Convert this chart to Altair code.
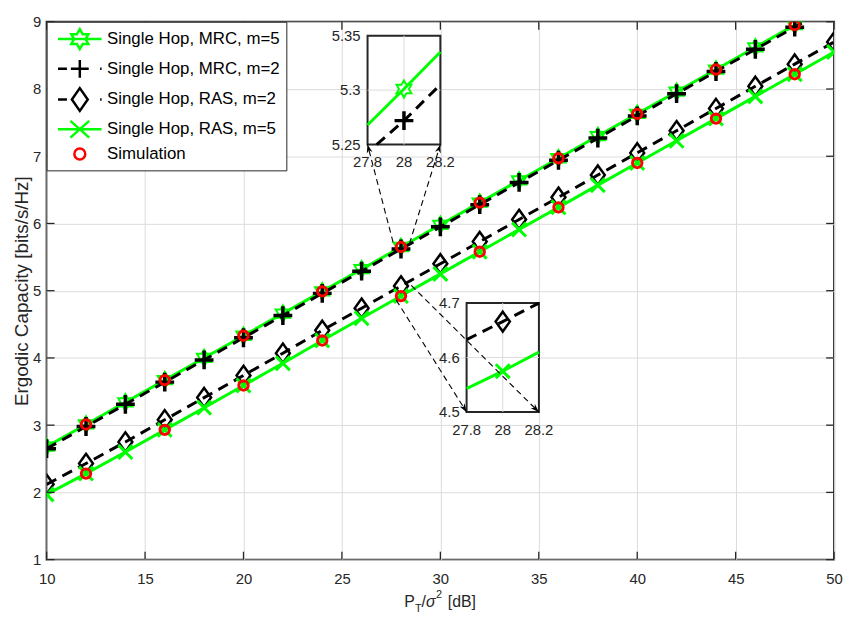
import math
import altair as alt
import pandas as pd

# ---------------- data ----------------
X = [10, 12, 14, 16, 18, 20, 22, 24, 26, 28, 30, 32, 34, 36, 38, 40, 42, 44, 46, 48, 50]
MRC5 = [2.68, 3.01, 3.34, 3.67, 4.00, 4.33, 4.66, 4.99, 5.32, 5.65, 5.98,
        6.31, 6.64, 6.97, 7.30, 7.63, 7.96, 8.29, 8.62, 8.95, 9.28]
MRC2 = [2.65, 2.98, 3.31, 3.64, 3.97, 4.30, 4.63, 4.96, 5.29, 5.62, 5.95,
        6.28, 6.61, 6.94, 7.27, 7.60, 7.93, 8.26, 8.59, 8.92, 9.25]
RAS2 = [2.12, 2.43, 2.75, 3.08, 3.41, 3.74, 4.07, 4.41, 4.74, 5.07, 5.40,
        5.73, 6.06, 6.39, 6.72, 7.05, 7.38, 7.71, 8.04, 8.37, 8.70]
RAS5 = [1.97, 2.28, 2.60, 2.93, 3.26, 3.59, 3.92, 4.26, 4.59, 4.92, 5.25,
        5.58, 5.91, 6.24, 6.57, 6.90, 7.23, 7.56, 7.89, 8.22, 8.55]
SIM_X = [12, 16, 20, 24, 28, 32, 36, 40, 44, 48]
SIM_MRC = [3.01, 3.67, 4.33, 4.99, 5.65, 6.31, 6.97, 7.63, 8.29, 8.95]
SIM_RAS = [2.28, 2.93, 3.59, 4.26, 4.92, 5.58, 6.24, 6.90, 7.56, 8.22]

# insets
INSET_X = [27.8, 28.0, 28.2]
UP_MRC5 = [5.268, 5.301, 5.335]
UP_MRC2_X = [27.85, 28.0, 28.2]
UP_MRC2 = [5.25, 5.272, 5.305]
LO_RAS2 = [4.633, 4.666, 4.700]
LO_RAS5 = [4.543, 4.575, 4.610]

# ticks
X_TICKS = [10, 15, 20, 25, 30, 35, 40, 45, 50]
Y_TICKS = [1, 2, 3, 4, 5, 6, 7, 8, 9]
INSET_XT = [27.8, 28.0, 28.2]
INSET_XT_LABELS = ["27.8", "28", "28.2"]
UP_YT = [5.25, 5.3, 5.35]
UP_YT_LABELS = ["5.25", "5.3", "5.35"]
LO_YT = [4.5, 4.6, 4.7]
LO_YT_LABELS = ["4.5", "4.6", "4.7"]

# zoom arrows (main-chart coordinates)
ARROW_X1 = [27.60, 28.43, 27.76, 28.52]
ARROW_Y1 = [5.72, 5.70, 4.86, 5.08]
ARROW_X2 = [26.30, 30.00, 31.33, 35.00]
ARROW_Y2 = [7.173, 7.173, 3.195, 3.195]
ARROW_ANGLE = [345.4, 17.3, 147.9, 134.8]

LEG_NAMES = ["Single Hop, MRC, m=5", "Single Hop, MRC, m=2",
             "Single Hop, RAS, m=2", "Single Hop, RAS, m=5", "Simulation"]

# ---------------- styles ----------------
W, H = 795, 543
FONT = "Liberation Sans, Arial, Helvetica, sans-serif"
AX = "#262626"
GREEN = "#00ff00"
GRID = "#dcdcdc"
DASH = [11, 7]

pts = []
for k in range(12):
    a = math.radians(-90 + 30 * k)
    r = 1.0 if k % 2 == 0 else 0.577
    pts.append(f"{r * math.cos(a):.3f},{r * math.sin(a):.3f}")
STAR = "M" + "L".join(pts) + "Z"
PLUS = "M-1,0H1M0,-1V1"
DIAM = "M0,-1L0.72,0L0,1L-0.72,0Z"
XSH = "M-1,-1L1,1M-1,1L1,-1"

LEG_PATHS = [
    "M-2.2,0H2.2" + STAR,
    "M-2.2,0H-1.3M-0.9,0H0.9M0,-0.9V0.9M2.05,0H2.2",
    "M-2.2,0H-1.3M0,-1.15L0.8,0L0,1.15L-0.8,0ZM2.05,0H2.2",
    "M-2.2,0H2.2M-0.95,-0.85L0.95,0.85M-0.95,0.85L0.95,-0.85",
    "M0.55,0A0.55,0.55,0,1,1,-0.55,0A0.55,0.55,0,1,1,0.55,0Z",
]
LEG_COLORS = [GREEN, "black", "black", GREEN, "red"]

# ---------------- tables ----------------
rows = []
for name, ys in [("mrc5", MRC5), ("mrc2", MRC2), ("ras2", RAS2), ("ras5", RAS5)]:
    for xv, yv in zip(X, ys):
        rows.append({"x": xv, "y": yv, "s": name})
df = pd.DataFrame(rows)
sim = pd.DataFrame({"x": SIM_X + SIM_X, "y": SIM_MRC + SIM_RAS})

MX = alt.Scale(domain=[10, 50], nice=False, zero=False)
MY = alt.Scale(domain=[1, 9], nice=False, zero=False)

x_axis = alt.Axis(values=X_TICKS, title=None, grid=True, gridColor=GRID, gridWidth=1,
                  domain=False, ticks=False, tickSize=0, labelPadding=12, labelFontSize=15,
                  labelColor=AX, labelFont=FONT, labelFlush=False, format="d")
y_axis = alt.Axis(values=Y_TICKS, title="Ergodic Capacity [bits/s/Hz]", grid=True,
                  gridColor=GRID, gridWidth=1, domain=False, ticks=False, tickSize=0,
                  labelPadding=6, labelFontSize=15, labelColor=AX, labelFont=FONT,
                  labelFlush=False, format="d", titleFont=FONT, titleFontSize=19,
                  titleFontWeight="normal", titleColor=AX, titlePadding=1)


def series(name, color, shape, size, sw, dash=None):
    base = alt.Chart(df).transform_filter(alt.datum.s == name)
    lkw = dict(color=color, strokeWidth=3, clip=True)
    if dash:
        lkw["strokeDash"] = dash
    line = base.mark_line(**lkw).encode(x="x:Q", y="y:Q")
    pt = base.mark_point(shape=shape, size=size, color=color, strokeWidth=sw,
                         filled=False, opacity=1, clip=True).encode(x="x:Q", y="y:Q")
    return [line, pt]


first = alt.Chart(df).transform_filter(alt.datum.s == "mrc5").mark_line(
    color=GREEN, strokeWidth=3, clip=True).encode(
    x=alt.X("x:Q", scale=MX, axis=x_axis), y=alt.Y("y:Q", scale=MY, axis=y_axis))
mrc5_pts = alt.Chart(df).transform_filter(alt.datum.s == "mrc5").mark_point(
    shape=STAR, size=280, color=GREEN, strokeWidth=2, filled=False, opacity=1,
    clip=True).encode(x="x:Q", y="y:Q")

main_layers = [first, mrc5_pts]
main_layers += series("mrc2", "black", PLUS, 361, 3.5, DASH)
main_layers += series("ras2", "black", DIAM, 380, 2.5, DASH)
main_layers += series("ras5", GREEN, XSH, 196, 3)
main_layers.append(alt.Chart(sim).mark_point(shape="circle", size=90, color="red",
                                             strokeWidth=3, filled=False, opacity=1,
                                             clip=True).encode(x="x:Q", y="y:Q"))

# inward ticks on all four sides
xt = pd.DataFrame({"x": X_TICKS})
yt = pd.DataFrame({"y": Y_TICKS})
tk = dict(color=AX, strokeWidth=1.3)
main_layers += [
    alt.Chart(xt).mark_rule(**tk).encode(x="x:Q", y=alt.value(H), y2=alt.value(H - 8)),
    alt.Chart(xt).mark_rule(**tk).encode(x="x:Q", y=alt.value(0), y2=alt.value(8)),
    alt.Chart(yt).mark_rule(**tk).encode(y="y:Q", x=alt.value(0), x2=alt.value(8)),
    alt.Chart(yt).mark_rule(**tk).encode(y="y:Q", x=alt.value(W), x2=alt.value(W - 8)),
]

# x-axis title with sub/superscripts
one = pd.DataFrame({"a": [0]})
tpieces = [("P", 361, 591, 16, "normal"), ("T", 372, 596, 11, "normal"),
           ("/", 378.5, 591, 16, "normal"), ("σ", 383, 591, 16, "italic"),
           ("2", 393, 582, 11, "normal"), ("[dB]", 405, 591, 16, "normal")]
for txt, px, py, fs, st in tpieces:
    main_layers.append(alt.Chart(one).mark_text(
        text=txt, align="left", baseline="alphabetic", fontSize=fs, fontStyle=st,
        color=AX, font=FONT).encode(x=alt.value(px), y=alt.value(py)))

# legend (driven by explicit scale domains)
leg = alt.Legend(title=None, orient="top-left", offset=0, padding=6, fillColor="white",
                 strokeColor=AX, labelFontSize=17, labelFont=FONT, labelColor="black",
                 symbolSize=400, symbolStrokeWidth=2.5, symbolOffset=16, labelOffset=16,
                 rowPadding=0, labelLimit=400)
leg_df = pd.DataFrame({"s": LEG_NAMES})
main_layers.append(alt.Chart(leg_df).transform_filter("false").mark_point(
    filled=False, opacity=1).encode(
    shape=alt.Shape("s:N", scale=alt.Scale(domain=LEG_NAMES, range=LEG_PATHS), legend=leg),
    color=alt.Color("s:N", scale=alt.Scale(domain=LEG_NAMES, range=LEG_COLORS), legend=leg)))

main = alt.layer(*main_layers)


# ---------------- insets ----------------
def inset(xr, yr, ydom, ylabels, lines, marks):
    SX = alt.Scale(domain=[INSET_XT[0], INSET_XT[-1]], range=xr, nice=False, zero=False)
    SY = alt.Scale(domain=[ydom[0], ydom[-1]], range=yr, nice=False, zero=False)
    box = pd.DataFrame({"x": [INSET_XT[0]], "x2": [INSET_XT[-1]],
                        "y": [ydom[0]], "y2": [ydom[-1]]})
    L = [alt.Chart(box).mark_rect(fill="white", stroke=AX, strokeWidth=2).encode(
        x=alt.X("x:Q", scale=SX, axis=None), x2="x2:Q",
        y=alt.Y("y:Q", scale=SY, axis=None), y2="y2:Q")]
    vg = pd.DataFrame({"x": [INSET_XT[1]], "y": [ydom[0]], "y2": [ydom[-1]]})
    hg = pd.DataFrame({"x": [INSET_XT[0]], "x2": [INSET_XT[-1]], "y": [ydom[1]]})
    L.append(alt.Chart(vg).mark_rule(color=GRID, strokeWidth=1).encode(x="x:Q", y="y:Q", y2="y2:Q"))
    L.append(alt.Chart(hg).mark_rule(color=GRID, strokeWidth=1).encode(x="x:Q", x2="x2:Q", y="y:Q"))
    for xs, ys, color, dash in lines:
        kw = dict(color=color, strokeWidth=3)
        if dash:
            kw["strokeDash"] = dash
        L.append(alt.Chart(pd.DataFrame({"x": xs, "y": ys})).mark_line(**kw).encode(x="x:Q", y="y:Q"))
    for xv, yv, shape, size, color, sw in marks:
        L.append(alt.Chart(pd.DataFrame({"x": [xv], "y": [yv]})).mark_point(
            shape=shape, size=size, color=color, strokeWidth=sw, filled=False,
            opacity=1).encode(x="x:Q", y="y:Q"))
    xl = pd.DataFrame({"x": INSET_XT, "y": [ydom[0]] * 3, "t": INSET_XT_LABELS})
    yl = pd.DataFrame({"x": [INSET_XT[0]] * 3, "y": ydom, "t": ylabels})
    L.append(alt.Chart(xl).mark_text(baseline="top", dy=11, fontSize=15, color=AX, font=FONT)
             .encode(x="x:Q", y="y:Q", text="t:N"))
    L.append(alt.Chart(yl).mark_text(align="right", baseline="middle", dx=-7, fontSize=15,
                                     color=AX, font=FONT)
             .encode(x="x:Q", y="y:Q", text="t:N"))
    return alt.layer(*L)


up = inset([324, 397.5], [124, 14], UP_YT, UP_YT_LABELS,
           [(INSET_X, UP_MRC5, GREEN, None), (UP_MRC2_X, UP_MRC2, "black", DASH)],
           [(28.0, UP_MRC5[1], STAR, 300, GREEN, 2), (28.0, UP_MRC2[1], PLUS, 361, "black", 3.5)])
lo = inset([424, 497], [394, 284], LO_YT, LO_YT_LABELS,
           [(INSET_X, LO_RAS2, "black", DASH), (INSET_X, LO_RAS5, GREEN, None)],
           [(28.0, LO_RAS2[1], DIAM, 400, "black", 2.5), (28.0, LO_RAS5[1], XSH, 196, GREEN, 3)])

# ---------------- zoom arrows ----------------
arr = pd.DataFrame({"x": ARROW_X1, "y": ARROW_Y1, "x2": ARROW_X2, "y2": ARROW_Y2,
                    "a": ARROW_ANGLE})
AXS = alt.Scale(domain=[10, 50], nice=False, zero=False)
AYS = alt.Scale(domain=[1, 9], nice=False, zero=False)
ARROWHEAD = "M0,0L0.6,1.7L0,1.2L-0.6,1.7Z"
arrows = alt.layer(
    alt.Chart(arr).mark_rule(color="black", strokeWidth=1.1, strokeDash=[6, 4]).encode(
        x=alt.X("x:Q", scale=AXS, axis=None), y=alt.Y("y:Q", scale=AYS, axis=None),
        x2="x2:Q", y2="y2:Q"),
    alt.Chart(arr).mark_point(shape=ARROWHEAD, size=100, filled=True, color="black",
                              opacity=1, strokeWidth=0.5).encode(
        x="x2:Q", y="y2:Q", angle=alt.Angle("a:Q", scale=None)),
)

chart = alt.layer(main, up, lo, arrows).resolve_scale(
    x="independent", y="independent"
).properties(
    width=W, height=H,
    autosize=alt.AutoSizeParams(type="none"),
    padding={"left": 39, "top": 11, "right": 9, "bottom": 53},
).configure_view(stroke=AX, strokeWidth=2).configure_axis(
    labelFont=FONT, titleFont=FONT
).configure_text(font=FONT).configure_legend(labelFont=FONT)

chart.save("out.html", embed_options={"renderer": "svg", "actions": False})
